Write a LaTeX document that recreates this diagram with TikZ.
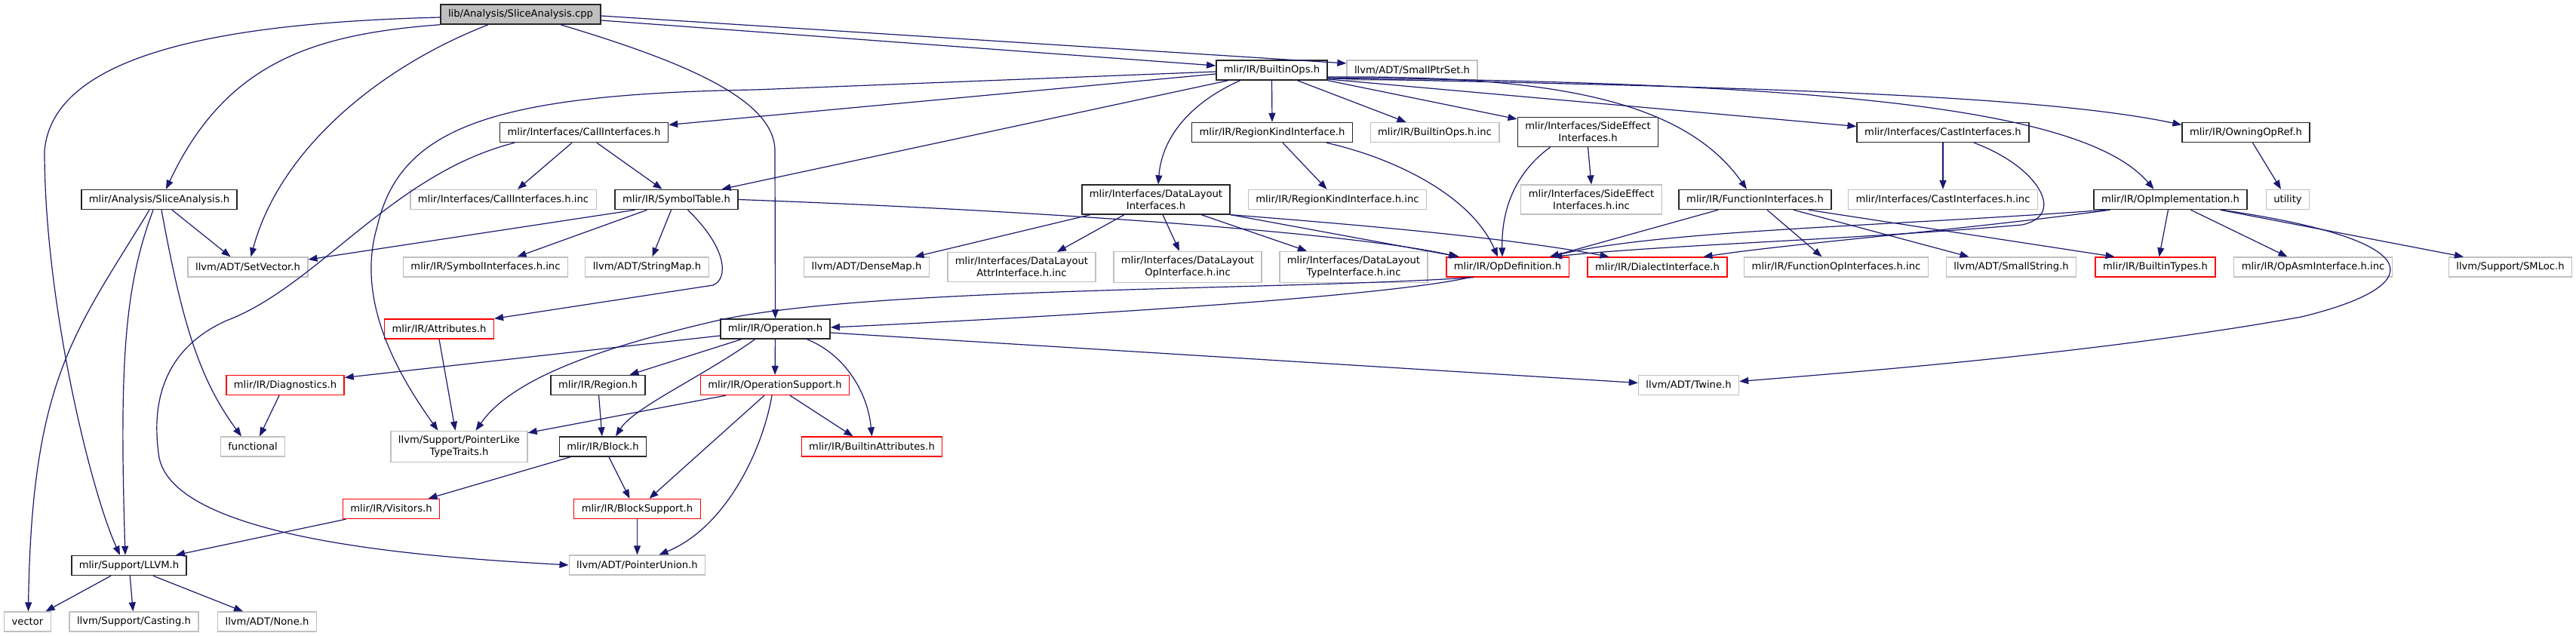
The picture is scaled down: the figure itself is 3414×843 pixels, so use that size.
\documentclass[tikz,border=0pt]{standalone}
\usepackage{fontspec}
\setmainfont{DejaVu Sans}
\usepackage{xcolor}
\usepackage{tikz}
\usetikzlibrary{arrows.meta}

\definecolor{edgeblue}{HTML}{191970}
\definecolor{sysgray}{HTML}{C0C0C0}
\definecolor{rootgray}{HTML}{BFBFBF}

\begin{document}
\begin{tikzpicture}[
    x=1pt, y=-1pt,
    every node/.style={font=\fontsize{13.15}{16}\selectfont, align=center, inner xsep=10pt, inner ysep=6.3pt, minimum height=26pt},
    docfile/.style={draw=black!85, line width=1.5pt, fill=white},
    sysfile/.style={draw=sysgray, line width=1.3pt, fill=white},
    redfile/.style={draw=red, line width=1.3pt, fill=white},
    mainfile/.style={draw=black!85, line width=1.5pt, fill=rootgray},
    arrow/.style={-{Triangle[length=12pt,width=9pt]}, draw=edgeblue, line width=1.2pt}
  ]
    \path[use as bounding box, fill=white] (0,0) rectangle (3414,843);

    \node[mainfile] (cpp) at (690,19) {lib/Analysis/SliceAnalysis.cpp};
    \node[docfile] (builtinops) at (1685.5,93) {mlir/IR/BuiltinOps.h};
    \node[sysfile] (smallptrset) at (1871.5,93) {llvm/ADT/SmallPtrSet.h};

    \node[docfile] (callif) at (774,175.5) {mlir/Interfaces/CallInterfaces.h};
    \node[docfile] (regionkind) at (1686,175.5) {mlir/IR/RegionKindInterface.h};
    \node[sysfile] (builtinopsinc) at (1901.5,175.5) {mlir/IR/BuiltinOps.h.inc};
    \node[docfile] (sideeffect) at (2104.5,175) {mlir/Interfaces/SideEffect\\Interfaces.h};
    \node[docfile] (castif) at (2575,175.5) {mlir/Interfaces/CastInterfaces.h};
    \node[docfile] (owningopref) at (2976.5,175.5) {mlir/IR/OwningOpRef.h};

    \node[docfile] (slh) at (211,264.5) {mlir/Analysis/SliceAnalysis.h};
    \node[sysfile] (callifinc) at (667,264.5) {mlir/Interfaces/CallInterfaces.h.inc};
    \node[docfile] (symtab) at (896.5,264.5) {mlir/IR/SymbolTable.h};
    \node[docfile] (datalayout) at (1532,264.5) {mlir/Interfaces/DataLayout\\Interfaces.h};
    \node[sysfile] (regionkindinc) at (1772.5,264.5) {mlir/IR/RegionKindInterface.h.inc};
    \node[sysfile] (sideeffectinc) at (2109,264.5) {mlir/Interfaces/SideEffect\\Interfaces.h.inc};
    \node[docfile] (funcif) at (2326,264.5) {mlir/IR/FunctionInterfaces.h};
    \node[sysfile] (castifinc) at (2575,264.5) {mlir/Interfaces/CastInterfaces.h.inc};
    \node[docfile] (opimpl) at (2876.5,264.5) {mlir/IR/OpImplementation.h};
    \node[sysfile] (utility) at (3032,264.5) {utility};

    \node[sysfile] (setvector) at (328.5,354) {llvm/ADT/SetVector.h};
    \node[sysfile] (symifinc) at (643.5,354) {mlir/IR/SymbolInterfaces.h.inc};
    \node[sysfile] (stringmap) at (857.5,354) {llvm/ADT/StringMap.h};
    \node[sysfile] (densemap) at (1148.5,354) {llvm/ADT/DenseMap.h};
    \node[sysfile] (dlattr) at (1354,354) {mlir/Interfaces/DataLayout\\AttrInterface.h.inc};
    \node[sysfile] (dlop) at (1574,354) {mlir/Interfaces/DataLayout\\OpInterface.h.inc};
    \node[sysfile] (dltype) at (1794,354) {mlir/Interfaces/DataLayout\\TypeInterface.h.inc};
    \node[redfile] (opdef) at (1998,354) {mlir/IR/OpDefinition.h};
    \node[redfile] (dialectif) at (2196.5,354) {mlir/IR/DialectInterface.h};
    \node[sysfile] (funcopinc) at (2433.5,354) {mlir/IR/FunctionOpInterfaces.h.inc};
    \node[sysfile] (smallstring) at (2665.5,354) {llvm/ADT/SmallString.h};
    \node[redfile] (builtintypes) at (2856.5,354) {mlir/IR/BuiltinTypes.h};
    \node[sysfile] (opasminc) at (3065.5,354) {mlir/IR/OpAsmInterface.h.inc};
    \node[sysfile] (smloc) at (3327,354) {llvm/Support/SMLoc.h};

    \node[redfile] (attributes) at (582,436) {mlir/IR/Attributes.h};
    \node[docfile] (operation) at (1027.5,436) {mlir/IR/Operation.h};

    \node[redfile] (diagnostics) at (378,510.5) {mlir/IR/Diagnostics.h};
    \node[docfile] (region) at (792.5,510.5) {mlir/IR/Region.h};
    \node[redfile] (opsupport) at (1027,510.5) {mlir/IR/OperationSupport.h};
    \node[sysfile] (twine) at (2238,510.5) {llvm/ADT/Twine.h};

    \node[sysfile] (functional) at (335,592) {functional};
    \node[sysfile] (pltt) at (608.5,592) {llvm/Support/PointerLike\\TypeTraits.h};
    \node[docfile] (block) at (799,592) {mlir/IR/Block.h};
    \node[redfile] (builtinattrs) at (1155.5,592) {mlir/IR/BuiltinAttributes.h};

    \node[redfile] (visitors) at (518.5,674.5) {mlir/IR/Visitors.h};
    \node[redfile] (blocksupport) at (844.5,674.5) {mlir/IR/BlockSupport.h};

    \node[docfile] (llvm) at (171,749.5) {mlir/Support/LLVM.h};
    \node[sysfile] (pointerunion) at (844.5,749) {llvm/ADT/PointerUnion.h};

    \node[sysfile] (vector) at (36.5,824) {vector};
    \node[sysfile] (casting) at (177.5,824) {llvm/Support/Casting.h};
    \node[sysfile] (nonefile) at (354,824) {llvm/ADT/None.h};

    \draw[arrow] ([yshift=-4pt]cpp.west) .. controls (300,30) and (70,70) .. (59,200) .. controls (59,400) and (120,650) .. ([xshift=-12pt]llvm.north);
    \draw[arrow] (cpp.south west) .. controls (420,45) and (300,80) .. ([xshift=9pt]slh.north);
    \draw[arrow] ([xshift=-43pt]cpp.south) .. controls (500,90) and (370,200) .. ([xshift=4pt]setvector.north);
    \draw[arrow] ([xshift=53pt]cpp.south) .. controls (900,80) and (1027,130) .. (1027,200) -- (operation.north);
    \draw[arrow] ([yshift=-8pt]cpp.east) -- ([yshift=6pt]builtinops.west);
    \draw[arrow] ([yshift=-2pt]cpp.east) -- ([yshift=9pt]smallptrset.west);

    \draw[arrow] ([xshift=17pt]slh.south) -- ([xshift=-23pt]setvector.north);
    \draw[arrow] ([xshift=-8pt]slh.south) .. controls (165,380) and (158,480) .. ([xshift=-5pt]llvm.north);
    \draw[arrow] ([xshift=-13pt]slh.south) .. controls (100,440) and (42,500) .. ([xshift=1pt]vector.north);
    \draw[arrow] ([xshift=3pt]slh.south) .. controls (240,420) and (262,500) .. ([xshift=-15pt]functional.north);

    \draw[arrow] ([xshift=-16pt]callif.south) -- ([xshift=19pt]callifinc.north);
    \draw[arrow] ([xshift=17pt]callif.south) -- ([xshift=-19pt]symtab.north);
    \draw[arrow] ([xshift=-92pt]callif.south) .. controls (520,230) and (420,380) .. (300,425) .. controls (200,470) and (205,560) .. (210,600) .. controls (220,720) and (600,740) .. (pointerunion.west);

    \draw[arrow] ([yshift=-5pt]builtinops.west) -- ([yshift=10pt]callif.east);
    \draw[arrow] ([yshift=-2pt]builtinops.west) -- (1000,119) .. controls (650,125) and (530,170) .. (500,300) .. controls (470,400) and (530,500) .. ([xshift=-28pt]pltt.north);
    \draw[arrow] ([xshift=-58pt]builtinops.south) -- ([xshift=60pt]symtab.north);
    \draw[arrow] ([xshift=-42pt]builtinops.south) .. controls (1580,135) and (1540,180) .. ([xshift=3pt]datalayout.north);
    \draw[arrow] (builtinops.south) -- (regionkind.north);
    \draw[arrow] ([xshift=34pt]builtinops.south) -- ([xshift=-38pt]builtinopsinc.north);
    \draw[arrow] (builtinops.south east) -- ([yshift=-3pt]sideeffect.north west);
    \draw[arrow] ([yshift=-12pt]builtinops.east) -- ([yshift=8pt]castif.west);
    \draw[arrow] ([yshift=-11pt]builtinops.east) .. controls (2300,115) and (2700,125) .. ([yshift=10pt]owningopref.west);
    \draw[arrow] ([yshift=-9pt]builtinops.east) .. controls (2050,100) and (2230,130) .. ([xshift=-11pt]funcif.north);
    \draw[arrow] ([yshift=-10pt]builtinops.east) .. controls (2400,110) and (2760,140) .. ([xshift=-22pt]opimpl.north);

    \draw[arrow] ([xshift=14pt]regionkind.south) -- ([xshift=-14pt]regionkindinc.north);
    \draw[arrow] ([xshift=72pt]regionkind.south) .. controls (1850,210) and (1950,260) .. ([xshift=-13pt]opdef.north);
    \draw[arrow] (sideeffect.south) -- (sideeffectinc.north);
    \draw[arrow] ([xshift=-50pt]sideeffect.south) .. controls (2000,235) and (1990,290) .. ([xshift=-7pt]opdef.north);
    \draw[arrow] (castif) -- (castifinc);
    \draw[arrow] ([xshift=41pt]castif.south) .. controls (2700,220) and (2740,285) .. (2680,298) .. controls (2450,318) and (2200,325) .. ([xshift=60pt]opdef.north);
    \draw[arrow] ([xshift=9pt]owningopref.south) -- ([xshift=-9pt]utility.north);

    \draw[arrow] ([xshift=-55pt]symtab.south) -- ([yshift=10pt]setvector.east);
    \draw[arrow] ([xshift=-39pt]symtab.south) -- ([xshift=42pt]symifinc.north);
    \draw[arrow] ([xshift=-7pt]symtab.south) -- ([xshift=7pt]stringmap.north);
    \draw[arrow] ([xshift=15pt]symtab.south) .. controls (965,330) and (965,370) .. (945,378) -- (attributes.north east);
    \draw[arrow] (symtab.east) .. controls (1400,280) and (1800,310) .. ([xshift=-66pt]opdef.north);

    \draw[arrow] ([xshift=-87pt]datalayout.south) -- ([xshift=64pt]densemap.north);
    \draw[arrow] ([xshift=-42pt]datalayout.south) -- ([xshift=47pt]dlattr.north);
    \draw[arrow] ([xshift=9pt]datalayout.south) -- ([xshift=-11pt]dlop.north);
    \draw[arrow] ([xshift=60pt]datalayout.south) -- ([xshift=-62pt]dltype.north);
    \draw[arrow] (datalayout.south east) -- ([xshift=-64pt]opdef.north);
    \draw[arrow] (datalayout.south east) .. controls (1800,298) and (2000,315) .. ([xshift=-64pt]dialectif.north);

    \draw[arrow] ([xshift=-49pt]funcif.south) -- ([xshift=56pt]opdef.north);
    \draw[arrow] ([xshift=16pt]funcif.south) -- ([xshift=-19pt]funcopinc.north);
    \draw[arrow] ([xshift=51pt]funcif.south) -- ([xshift=-56pt]smallstring.north);
    \draw[arrow] ([xshift=71pt]funcif.south) -- ([xshift=-54pt]builtintypes.north);

    \draw[arrow] ([xshift=-86pt]opimpl.south) .. controls (2500,300) and (2200,305) .. ([xshift=56pt]opdef.north);
    \draw[arrow] ([xshift=-80pt]opimpl.south) .. controls (2600,305) and (2380,322) .. ([xshift=61pt]dialectif.north);
    \draw[arrow] ([xshift=-3pt]opimpl.south) -- ([xshift=5pt]builtintypes.north);
    \draw[arrow] ([xshift=27pt]opimpl.south) -- ([xshift=-34pt]opasminc.north);
    \draw[arrow] ([xshift=66pt]opimpl.south) -- ([xshift=-62pt]smloc.north);
    \draw[arrow] ([xshift=68pt]opimpl.south) .. controls (3230,320) and (3215,380) .. (3050,420) .. controls (2800,465) and (2500,490) .. ([yshift=5pt]twine.east);

    \draw[arrow] (attributes.south) -- ([xshift=-5pt]pltt.north);
    \draw[arrow] ([xshift=-50pt]opdef.south) .. controls (1850,390) and (1500,415) .. ([yshift=2pt]operation.east);
    \draw[arrow] ([xshift=-45pt]opdef.south) .. controls (1700,385) and (1150,380) .. (950,425) .. controls (800,460) and (680,500) .. ([xshift=22pt]pltt.north);

    \draw[arrow] (operation) -- (opsupport);
    \draw[arrow] ([xshift=42pt]operation.south) .. controls (1120,470) and (1150,520) .. (builtinattrs.north);
    \draw[arrow] ([yshift=-5pt]operation.east) -- ([yshift=3pt]twine.west);
    \draw[arrow] ([yshift=-9pt]operation.west) -- ([yshift=10pt]diagnostics.east);
    \draw[arrow] ([xshift=-45pt]operation.south) -- ([xshift=42pt]region.north);
    \draw[arrow] ([xshift=-27pt]operation.south) .. controls (930,500) and (840,540) .. ([xshift=17pt]block.north);

    \draw[arrow] ([xshift=20pt]opsupport.south) -- ([xshift=-25pt]builtinattrs.north);
    \draw[arrow] ([xshift=-65pt]opsupport.south) -- ([yshift=-3pt]pltt.north east);
    \draw[arrow] ([xshift=-14pt]opsupport.south) -- ([xshift=16pt]blocksupport.north);
    \draw[arrow] ([xshift=-4pt]opsupport.south) .. controls (1010,600) and (960,700) .. ([xshift=29pt]pointerunion.north);

    \draw[arrow] (region) -- (block);
    \draw[arrow] ([xshift=-43pt]block.south) -- ([xshift=49pt]visitors.north);
    \draw[arrow] ([xshift=8pt]block.south) -- ([xshift=-10pt]blocksupport.north);
    \draw[arrow] (blocksupport) -- (pointerunion);
    \draw[arrow] ([xshift=-60pt]visitors.south) -- ([xshift=62pt]llvm.north);
    \draw[arrow] ([xshift=-8pt]diagnostics.south) -- ([xshift=9pt]functional.north);
    \draw[arrow] ([xshift=-24pt]llvm.south) -- ([xshift=24pt]vector.north);
    \draw[arrow] (llvm) -- (casting);
    \draw[arrow] ([xshift=32pt]llvm.south) -- ([xshift=-32pt]nonefile.north);
  \end{tikzpicture}
\end{document}
